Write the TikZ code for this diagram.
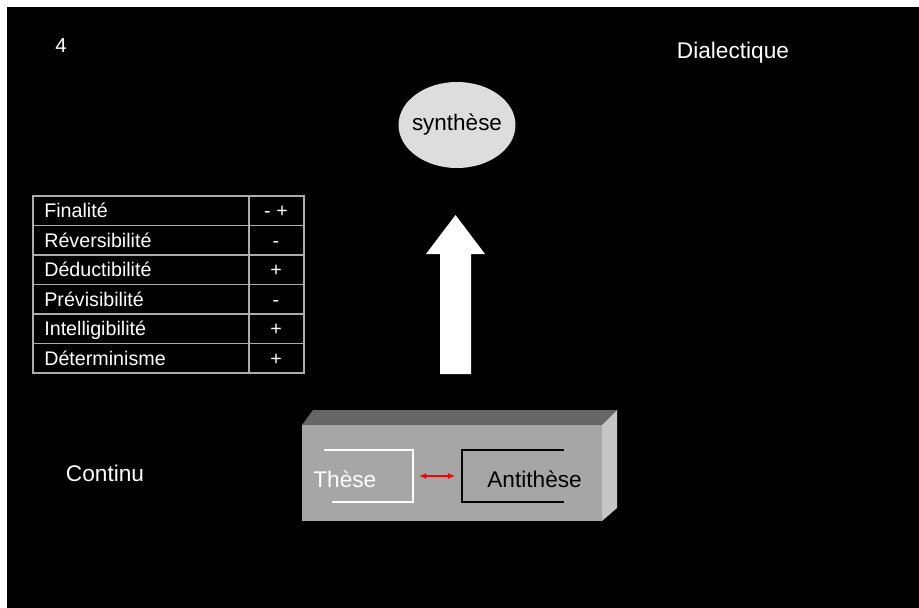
\documentclass[tikz,border=0pt]{standalone}
\usepackage{fontspec}
\setmainfont{Liberation Sans}
\usetikzlibrary{
    arrows.meta,
    shapes.geometric,
    positioning
}

\begin{document}
\begin{tikzpicture}[x=0.02cm,y=-0.02cm,
    bigtext/.style={text=white,font=\fontsize{12.9}{15}\selectfont,inner sep=0pt},
    celltext/.style={text=white,font=\fontsize{11.2}{13}\selectfont,inner sep=0pt},
    cellline/.style={draw=gray!65,line width=0.7pt},
    bracket/.style={line width=1.4pt}
]
    % fond
    \fill[white] (0,0) rectangle (919,608);
    \fill[black] (7,7) rectangle (919,608);
    \useasboundingbox (0,0) rectangle (919,608);

    \node[bigtext,font=\fontsize{11.5}{13}\selectfont] (num) at (61,46) {4};
    \node[bigtext] (dial) at (733,53) {Dialectique};
    \node[bigtext] (cont) at (105,473) {Continu};

    % synthese
    \node[ellipse,fill=gray!27,inner sep=0pt,minimum width=2.34cm,minimum height=1.72cm,
          text=black,font=\fontsize{12.8}{15}\selectfont] (synth) at (457,125)
          {\makebox[0pt]{synthèse}};

    % fleche
    \fill[white] (440,374) -- (440,254) -- (426,254) -- (455.5,215)
        -- (485,254) -- (471,254) -- (471,374) -- cycle;

    % tableau
    \draw[cellline] (33,196) rectangle (304,373);
    \draw[cellline] (249,196) -- (249,373);
    \foreach \i in {1,...,5}
        \draw[cellline] (33,196+29.5*\i) -- (304,196+29.5*\i);
    \foreach \lab/\val [count=\i from 0] in {Finalité/- +, Réversibilité/-,
            Déductibilité/+, Prévisibilité/-, Intelligibilité/+, Déterminisme/+}
    {
        \node[celltext,anchor=base west] (row\i) at (44,217.75+29.5*\i) {\lab};
        \node[celltext,anchor=base] (val\i) at (276,217.75+29.5*\i) {\val};
    }

    % bloc
    \fill[gray!80!black] (302,425) -- (313,410) -- (617,410) -- (602,425) -- cycle;
    \fill[gray!45] (602,425) -- (617,410) -- (617,508) -- (602,521) -- cycle;
    \fill[gray!70] (302,425) rectangle (602,521);

    \draw[bracket,white] (324,450) -- (413,450) -- (413,502) -- (332,502);
    \draw[bracket,black] (564,450) -- (462,450) -- (462,502) -- (564,502);
    \node[bigtext,anchor=base west] (these) at (313,487) {Thèse};
    \node[bigtext,anchor=base west,text=black] (anti) at (487,487) {Antithèse};

    \coordinate (la) at (419,476);
    \coordinate (ra) at (455,476);
    \draw[red,line width=0.8pt,{Latex[length=4pt,width=3.5pt]}-{Latex[length=4pt,width=3.5pt]}] (la) -- (ra);
\end{tikzpicture}
\end{document}
